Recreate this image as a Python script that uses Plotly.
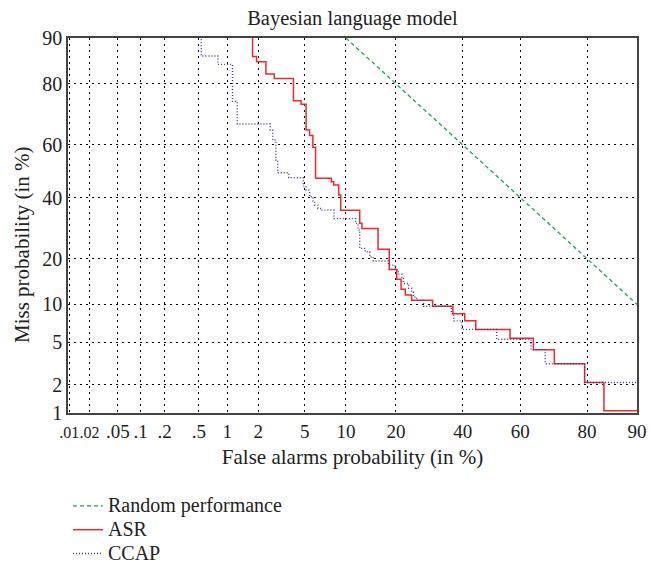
from statistics import NormalDist
import plotly.graph_objects as go

# ---- data (percent values) ----
random_fa = [10, 90]
random_miss = [90, 10]

asr_fa = [1.77, 1.93, 2.35, 2.79, 4.06, 4.68, 5.13, 5.46, 5.79, 6.07, 7.92, 8.24,
          8.93, 9.22, 12.3, 12.7, 15.9, 18.4, 20.2, 21.3, 22.4, 24.1, 30.2, 36.7,
          40.7, 44.5, 56.5, 64.4, 71.0, 79.4, 83.9, 90]
asr_miss = [99, 86.5, 85.4, 82.5, 81.4, 75.1, 74.0, 65.4, 63.4, 59.1, 47.3, 46.0,
            44.7, 40.9, 35.4, 30.8, 29.1, 22.6, 17.2, 14.9, 12.8, 11.7, 10.7, 9.7,
            8.5, 7.5, 6.4, 5.4, 4.3, 3.2, 2.1, 1.06]

ccap_fa = [0.53, 0.80, 1.13, 1.26, 2.57, 2.70, 2.88, 2.99, 3.71, 4.88, 5.13, 5.46,
           5.79, 5.97, 6.32, 6.68, 8.28, 11.6, 12.0, 12.3, 13.3, 14.2, 14.9, 18.2,
           19.8, 20.6, 21.5, 21.9, 23.3, 24.1, 24.6, 25.5, 27.5, 36.2, 37.0, 39.7,
           51.8, 63.6, 68.2, 79.4, 90]
ccap_miss = [95, 86.6, 84.8, 74.9, 67.5, 65.4, 61.8, 54.3, 49.4, 47.5, 44.3, 42.8,
             40.3, 38.4, 37.2, 36.0, 35.4, 32.4, 30.8, 28.6, 22.9, 21.9, 20.5, 19.4,
             18.3, 17.1, 16.1, 15.1, 14.0, 13.0, 12.2, 11.3, 10.7, 9.7, 8.5, 7.5,
             6.4, 5.3, 4.3, 3.2, 2.1]

x_tick_vals = [0.01, 0.02, 0.05, 0.1, 0.2, 0.5, 1, 2, 5, 10, 20, 40, 60, 80, 90]
x_tick_text = [".01", ".02", ".05", ".1", ".2", ".5", "1", "2", "5", "10", "20",
               "40", "60", "80", "90"]
y_tick_vals = [1, 2, 5, 10, 20, 40, 60, 80, 90]
y_tick_text = ["1", "2", "5", "10", "20", "40", "60", "80", "90"]

# ---- normal-deviate (probit) scale ----
_nd = NormalDist()


def probit(values):
    return [_nd.inv_cdf(v / 100.0) for v in values]


FONT = "Liberation Serif"
INK = "#222222"
W, H = 653, 565
ML, MR, MT, MB = 68, 16, 38, 152


def legend_name(s):
    return '<span style="font-size:20px">' + s + "</span>"


# the two crowded labels at the far left are set a little smaller
x_tick_labels = ['<span style="font-size:16px">' + t + "</span>" if i < 2 else t
                 for i, t in enumerate(x_tick_text)]

fig = go.Figure()
fig.add_trace(go.Scatter(x=probit(random_fa), y=probit(random_miss), mode="lines",
                         name=legend_name("Random performance"),
                         line=dict(color="#16a84a", width=1.3, dash="4px,3px")))
fig.add_trace(go.Scatter(x=probit(asr_fa), y=probit(asr_miss), mode="lines",
                         name=legend_name("ASR"), line_shape="vh",
                         line=dict(color="#ee2a2a", width=1.5)))
fig.add_trace(go.Scatter(x=probit(ccap_fa), y=probit(ccap_miss), mode="lines",
                         name=legend_name("CCAP"), line_shape="vh",
                         line=dict(color="#3a3aa0", width=1.4, dash="1px,2px")))

axis_common = dict(showgrid=True, gridcolor="#000000", gridwidth=1, griddash="2px,4px",
                   showline=True, linecolor="#444444", linewidth=1.5, mirror=True,
                   zeroline=False, ticks="", automargin=False, tickangle=0)

plot_h = H - MT - MB
fig.update_layout(
    width=W, height=H,
    margin=dict(l=ML, r=MR, t=MT, b=MB, autoexpand=False),
    paper_bgcolor="white", plot_bgcolor="white",
    font=dict(family=FONT, size=20, color=INK),
    title=dict(text="Bayesian language model", x=0.5, xref="paper", xanchor="center",
               y=1 - 18 / H, yref="container", yanchor="middle",
               font=dict(family=FONT, size=20.5, color=INK)),
    xaxis=dict(range=[_nd.inv_cdf(0.0001) - 0.01, _nd.inv_cdf(0.9)],
               tickvals=probit(x_tick_vals), ticktext=x_tick_labels,
               tickfont=dict(family=FONT, size=19, color=INK),
               title=dict(text="False alarms probability (in %)", standoff=9,
                          font=dict(family=FONT, size=21, color=INK)),
               **axis_common),
    yaxis=dict(range=[_nd.inv_cdf(0.01), _nd.inv_cdf(0.9)],
               tickvals=probit(y_tick_vals), ticktext=y_tick_text,
               tickfont=dict(family=FONT, size=20, color=INK),
               **axis_common),
    annotations=[dict(text="Miss probability (in %)", textangle=-90,
                      xref="paper", x=(22 - ML) / (W - ML - MR), xanchor="center",
                      yref="paper", y=(H - MB - 245) / plot_h, yanchor="middle",
                      showarrow=False, font=dict(family=FONT, size=21, color=INK))],
    legend=dict(x=0, xanchor="left", xref="paper", y=1 - 489 / H, yanchor="top",
                yref="container",
                bgcolor="rgba(0,0,0,0)", font=dict(family=FONT, size=16, color=INK),
                tracegroupgap=0, itemwidth=30),
    showlegend=True,
)

fig.write_html("out.html")
